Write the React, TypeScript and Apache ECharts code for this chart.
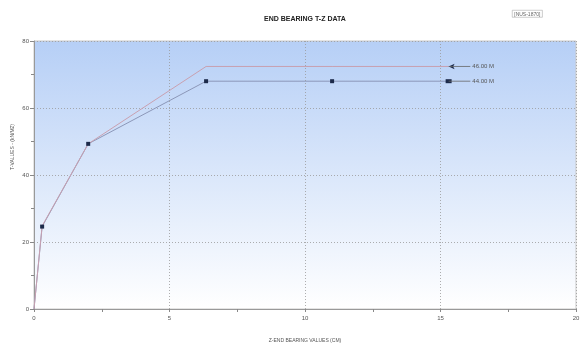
import React, { useEffect, useRef } from "react";
import * as echarts from "echarts";

const titleText = "END BEARING T-Z DATA";
const xAxisName = "Z-END BEARING VALUES (CM)";
const yAxisName = "T-VALUES - (kN/M2)";
const tagText = "[NUS-1870]";

const seriesNames = ["46.00 M", "44.00 M"];
const zValues46 = [0, 0.3, 2.0, 6.35, 11.0, 15.3];
const tValues46 = [0, 24.8, 49.3, 72.4, 72.4, 72.4];
const zValues44 = [0, 0.3, 2.0, 6.35, 11.0, 15.3];
const tValues44 = [0, 24.6, 49.3, 68.0, 68.0, 68.0];
const pointerZ = [15.3, 16.1];

export default function App() {
  const ref = useRef<HTMLDivElement>(null);
  useEffect(() => {
    if (!ref.current) return;
    const chart = echarts.init(ref.current, null, { renderer: "svg" });
    const font = "Liberation Sans, Arial, sans-serif";
    const mk = (zs: number[], ts: number[]) => zs.map((z, i) => [z, ts[i]]);
    const lastIdx = zValues46.length - 1;
    const pointer = (t: number, name: string) => ({
      type: "line",
      data: pointerZ.map((z) => [z, t]),
      symbol: "none",
      lineStyle: { color: "#666", width: 0.8 },
      silent: true,
      z: 4,
      endLabel: {
        show: true,
        formatter: name,
        fontSize: 6,
        color: "#555",
        fontFamily: font,
        distance: 2,
      },
    });
    chart.setOption({
      animation: false,
      title: {
        text: titleText,
        left: 259,
        top: 10,
        textStyle: { fontSize: 7, fontWeight: "bold", color: "#222", fontFamily: font },
      },
      graphic: [
        {
          type: "text",
          left: 512,
          top: 10,
          style: {
            text: tagText,
            fontSize: 5,
            fill: "#666",
            fontFamily: font,
            borderColor: "#999",
            borderWidth: 0.5,
            padding: [1, 2],
          },
        },
        {
          type: "text",
          x: 12,
          y: 147,
          rotation: Math.PI / 2,
          style: {
            text: yAxisName,
            fontSize: 5,
            fill: "#555",
            fontFamily: font,
            align: "center",
            verticalAlign: "middle",
          },
        },
      ],
      grid: {
        left: 34,
        right: 7,
        top: 41,
        bottom: 32,
        show: true,
        borderColor: "#c8c8c8",
        borderWidth: 1,
        backgroundColor: new echarts.graphic.LinearGradient(0, 0, 0, 1, [
          { offset: 0, color: "#b6cff6" },
          { offset: 1, color: "#ffffff" },
        ]),
      },
      xAxis: {
        type: "value",
        min: 0,
        max: 20,
        interval: 5,
        name: xAxisName,
        nameLocation: "middle",
        nameGap: 28,
        nameTextStyle: { fontSize: 5, color: "#555", fontFamily: font },
        axisLine: { show: true, lineStyle: { color: "#999" } },
        axisTick: { show: true, length: 3, lineStyle: { color: "#888" } },
        minorTick: { show: true, splitNumber: 2, length: 3, lineStyle: { color: "#888" } },
        axisLabel: { fontSize: 6, color: "#555", fontFamily: font, margin: 6 },
        splitLine: { show: true, lineStyle: { color: "#999", type: [1, 2], width: 0.8 } },
      },
      yAxis: {
        type: "value",
        min: 0,
        max: 80,
        interval: 20,
        axisLine: { show: true, lineStyle: { color: "#999" } },
        axisTick: { show: true, length: 4, lineStyle: { color: "#888" } },
        minorTick: { show: true, splitNumber: 2, length: 3, lineStyle: { color: "#888" } },
        axisLabel: { fontSize: 6, color: "#555", fontFamily: font, margin: 5 },
        splitLine: { show: true, lineStyle: { color: "#999", type: [1, 2], width: 0.8 } },
      },
      series: [
        {
          name: seriesNames[1],
          type: "line",
          data: mk(zValues44, tValues44).map((p, i) =>
            i === lastIdx
              ? { value: p, symbol: "rect", symbolSize: [6, 4] }
              : { value: p, symbol: i === 0 ? "none" : "rect", symbolSize: 4 }
          ),
          lineStyle: { color: "#8c97b8", width: 1 },
          itemStyle: { color: "#1c2a4a" },
          z: 3,
        },
        {
          name: seriesNames[0],
          type: "line",
          data: mk(zValues46, tValues46).map((p, i) =>
            i === lastIdx
              ? { value: p, symbol: "arrow", symbolRotate: 90, symbolSize: [4, 6] }
              : { value: p, symbol: "none" }
          ),
          lineStyle: { color: "#c8a0b0", width: 1 },
          itemStyle: { color: "#1c2a4a" },
          z: 3,
        },
        pointer(tValues46[lastIdx], seriesNames[0]),
        pointer(tValues44[lastIdx], seriesNames[1]),
      ],
    });
    return () => chart.dispose();
  }, []);
  return (
    <div
      ref={ref}
      style={{ position: "fixed", left: 0, top: 0, width: 583, height: 347 }}
    />
  );
}
